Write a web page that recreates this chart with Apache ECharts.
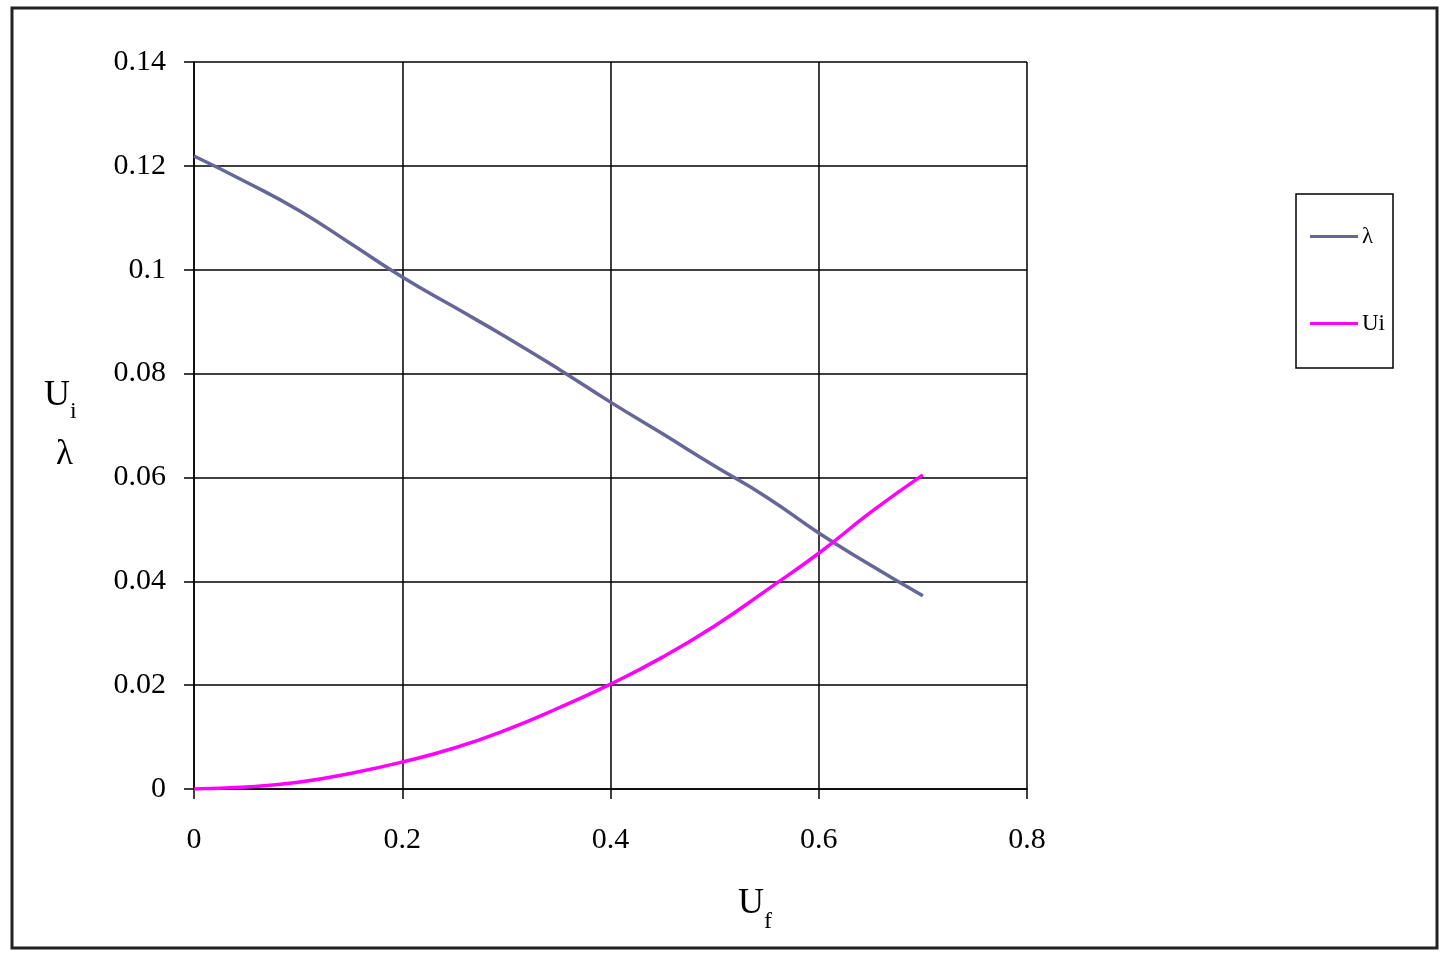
<!DOCTYPE html>
<html>
<head>
<meta charset="utf-8">
<script src="https://cdn.jsdelivr.net/npm/echarts@6/dist/echarts.min.js"></script>
<style>html,body{margin:0;padding:0;background:#fff}#c{width:1448px;height:961px}</style>
</head>
<body>
<div id="c"></div>
<script>
const uf = [0, 0.05, 0.1, 0.15, 0.2, 0.25, 0.3, 0.35, 0.4, 0.45, 0.5, 0.55, 0.6, 0.65, 0.7];
const lambdaVals = [0.1219, 0.1169, 0.1115, 0.1051, 0.0986, 0.0928, 0.0870, 0.0809, 0.0745, 0.0684, 0.0622, 0.0562, 0.0493, 0.0431, 0.0372];
const uiVals = [0, 0.0004, 0.0013, 0.0030, 0.0052, 0.0079, 0.0114, 0.0156, 0.0202, 0.0254, 0.0314, 0.0383, 0.0454, 0.0533, 0.0605];
const seriesNames = ['λ', 'Ui'];

const font = '"Liberation Serif", "Times New Roman", serif';
const chart = echarts.init(document.getElementById('c'), null, {renderer: 'canvas'});
chart.setOption({
  animation: false,
  backgroundColor: '#fff',
  textStyle: {fontFamily: font},
  grid: {left: 194, top: 62, right: 421, bottom: 172},
  xAxis: {
    type: 'value', min: 0, max: 0.8, interval: 0.2,
    axisLine: {lineStyle: {color: '#000', width: 1.5}},
    axisTick: {show: true, length: 10, lineStyle: {color: '#000', width: 1.5}},
    splitLine: {show: true, lineStyle: {color: '#000', width: 1.5}},
    axisLabel: {color: '#000', fontSize: 30, fontFamily: font, margin: 36, formatter: v => String(+v.toFixed(2))}
  },
  yAxis: {
    type: 'value', min: 0, max: 0.14, interval: 0.02,
    axisLine: {lineStyle: {color: '#000', width: 1.5}},
    axisTick: {show: true, length: 10, lineStyle: {color: '#000', width: 1.5}},
    splitLine: {show: true, lineStyle: {color: '#000', width: 1.5}},
    axisLabel: {color: '#000', fontSize: 30, fontFamily: font, margin: 28, formatter: v => String(+v.toFixed(2))}
  },
  legend: {
    orient: 'vertical', left: 1296, top: 194,
    data: seriesNames.map(n => ({name: n, icon: 'rect'})),
    itemWidth: 48, itemHeight: 3, itemGap: 64,
    padding: [31, 8, 33, 14],
    borderColor: '#000', borderWidth: 1.5,
    textStyle: {fontSize: 23, fontFamily: font, color: '#000', padding: [0,0,0,-1]}
  },
  graphic: [
    {type: 'rect', shape: {x: 12, y: 8, width: 1425, height: 940}, style: {fill: 'none', stroke: '#222', lineWidth: 3}, silent: true},
    {type: 'text', left: 44, top: 378, style: {text: '{u|U}{s|i}', rich: {u: {fontSize: 36, fontFamily: font, fill: '#000'}, s: {fontSize: 24, fontFamily: font, fill: '#000', verticalAlign: 'bottom', padding: [0,0,-10,0]}}}},
    {type: 'text', left: 56, top: 437, style: {text: 'λ', fontSize: 35, fontFamily: font, fill: '#000'}},
    {type: 'text', left: 738, top: 886, style: {text: '{u|U}{s|f}', rich: {u: {fontSize: 36, fontFamily: font, fill: '#000'}, s: {fontSize: 24, fontFamily: font, fill: '#000', verticalAlign: 'bottom', padding: [0,0,-12,0]}}}}
  ],
  series: [
    {name: seriesNames[0], type: 'line', smooth: true, symbol: 'none', data: uf.map((x, i) => [x, lambdaVals[i]]), lineStyle: {color: '#666699', width: 3.5}, itemStyle: {color: '#666699'}},
    {name: seriesNames[1], type: 'line', smooth: true, symbol: 'none', data: uf.map((x, i) => [x, uiVals[i]]), lineStyle: {color: '#ff00ff', width: 3.5}, itemStyle: {color: '#ff00ff'}}
  ]
});
</script>
</body>
</html>
